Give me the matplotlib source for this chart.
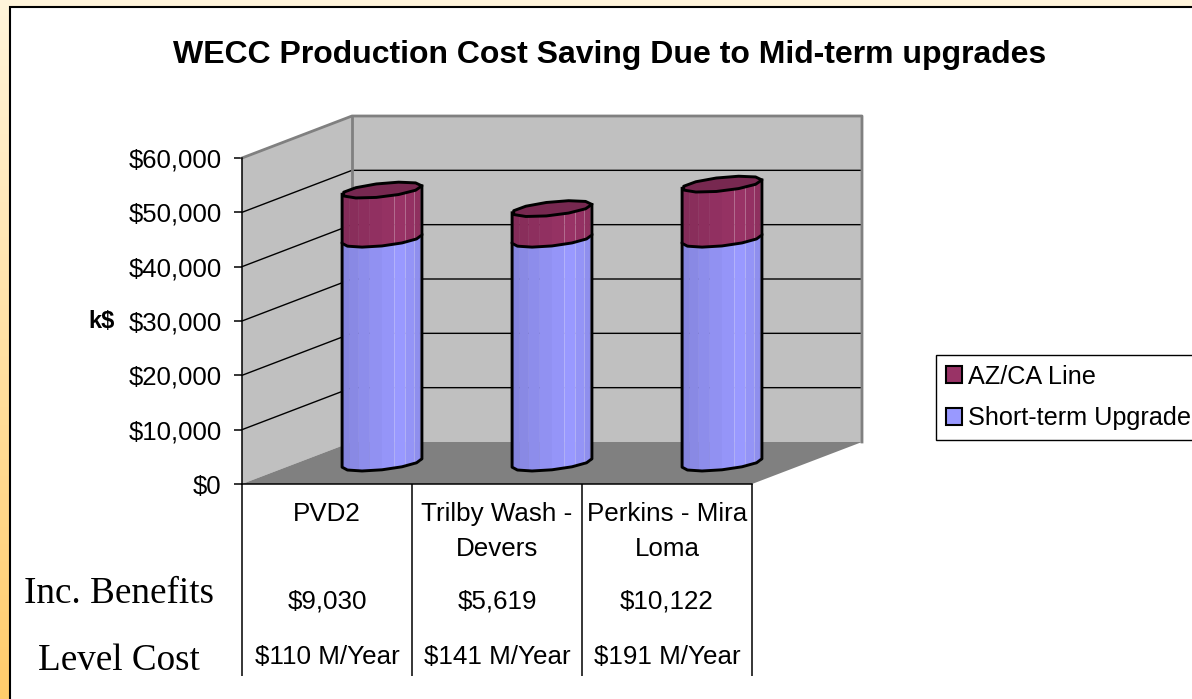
import matplotlib
matplotlib.use('Agg')
import matplotlib.pyplot as plt
import numpy as np
from matplotlib.patches import Polygon, Rectangle, Patch
from matplotlib.transforms import blended_transform_factory

categories = ['PVD2', 'Trilby Wash -\nDevers', 'Perkins - Mira\nLoma']
short_term = [41200, 41200, 41200]
az_ca = [9030, 5619, 10122]
benefits = ['$9,030', '$5,619', '$10,122']
level_cost = ['$110 M/Year', '$141 M/Year', '$191 M/Year']
y_ticks = [0, 10000, 20000, 30000, 40000, 50000, 60000]

BLUE = np.array([0x99, 0x99, 0xff]) / 255
MAROON = np.array([0x99, 0x33, 0x66]) / 255

plt.rcParams['font.family'] = ['Liberation Sans', 'DejaVu Sans']

W, H = 1192, 699
fig = plt.figure(figsize=(W / 100, H / 100), dpi=100)

# slide background and white frame
bg = fig.add_axes([0, 0, 1, 1])
grad = np.linspace(0, 1, 256).reshape(-1, 1)
top = np.array([1.0, 0.96, 0.86])
bottom = np.array([1.0, 0.80, 0.42])
bg.imshow(top + (bottom - top) * grad[:, :, None], aspect='auto', extent=[0, W, H, 0])
bg.add_patch(Rectangle((9.5, 6.5), W + 20, H + 20, fc='white', ec='black', lw=1.5))
bg.set_xlim(0, W)
bg.set_ylim(H, 0)
bg.axis('off')

# front plane of the 3d box is the real axes
ax = fig.add_axes([242 / W, (H - 484) / H, 510 / W, 326 / H])
ax.patch.set_alpha(0)
ax.set_xlim(0, 3)
ax.set_ylim(0, 60000)
for s in ['top', 'right']:
    ax.spines[s].set_visible(False)
for s in ['left', 'bottom']:
    ax.spines[s].set_linewidth(1.1)
    ax.spines[s].set_zorder(20)

DX = 110 / 170
DY = 42 / 326 * 60000


def proj(x, v, d):
    return x + d * DX, v + d * DY


def box_poly(pts, **kw):
    ax.add_patch(Polygon(pts, clip_on=False, **kw))


# walls and floor
box_poly([proj(0, 0, 0), proj(0, 60000, 0), proj(0, 60000, 1), proj(0, 0, 1)], fc='#c0c0c0', ec='none', zorder=1)
box_poly([proj(0, 0, 1), proj(0, 60000, 1), proj(3, 60000, 1), proj(3, 0, 1)], fc='#c0c0c0', ec='none', zorder=1)
box_poly([proj(0, 0, 0), proj(3, 0, 0), proj(3, 0, 1), proj(0, 0, 1)], fc='#808080', ec='none', zorder=2)

for v in y_ticks[1:-1]:
    xs, ys = zip(proj(0, v, 0), proj(0, v, 1), proj(3, v, 1))
    ax.plot(xs, ys, color='black', lw=1, clip_on=False, zorder=3)
xs, ys = zip(proj(0, 60000, 0), proj(0, 60000, 1), proj(3, 60000, 1), proj(3, 0, 1))
ax.plot(xs, ys, color='#808080', lw=2, clip_on=False, zorder=3)
xs, ys = zip(proj(0, 60000, 1), proj(0, 0, 1))
ax.plot(xs, ys, color='#808080', lw=2, clip_on=False, zorder=3)

# cylinders, coarse polygons like the old 3d renderer
RX = 0.2
RD = 0.19
N_SIDE = 10
N_RING = 11
t0 = np.arctan2(RD * 110, RX * 170)


def ring(c, v, t):
    return proj(c + 0.5 + RX * np.cos(t), v, 0.5 + RD * np.sin(t))


def cylinder(c, v0, v1, color, z):
    ts = np.linspace(t0 + np.pi, t0 + 2 * np.pi, N_SIDE + 1)
    for i in range(N_SIDE):
        f = (i + 0.5) / N_SIDE
        shade = 0.83 + 0.17 * f / 0.65 if f < 0.65 else 1.0 - 0.12 * (f - 0.65) / 0.35
        pts = [ring(c, v0, ts[i]), ring(c, v1, ts[i]), ring(c, v1, ts[i + 1]), ring(c, v0, ts[i + 1])]
        box_poly(pts, fc=color * shade, ec=color * shade, lw=0.3, zorder=z)
        if f > 0.55:
            xs, ys = zip(ring(c, v0, ts[i]), ring(c, v1, ts[i]))
            ax.plot(xs, ys, color='white', alpha=0.25, lw=0.7, clip_on=False, zorder=z)
    # outline of the side
    tf = np.linspace(t0 + np.pi, t0 + 2 * np.pi, N_RING // 2 + 2)
    xb, yb = ring(c, v0, tf)
    xu, yu = ring(c, v1, tf)
    ax.plot(np.r_[xu[0], xb, xu[-1]], np.r_[yu[0], yb, yu[-1]], color='black', lw=2.1,
            solid_joinstyle='round', clip_on=False, zorder=z + 0.2)
    return v1


def cap(c, v, color, z):
    tf = np.linspace(t0, t0 + 2 * np.pi, N_RING + 1)
    xc, yc = ring(c, v, tf)
    box_poly(list(zip(xc, yc)), fc=color, ec='black', lw=2.1, joinstyle='round', zorder=z)


for i in range(3):
    z = 4 + i
    top_blue = cylinder(i, 0, short_term[i], BLUE, z)
    top_red = cylinder(i, top_blue, top_blue + az_ca[i], MAROON, z + 0.3)
    cap(i, top_red, MAROON * 0.78, z + 0.6)

# axis ticks and labels
ax.set_yticks(y_ticks)
ax.set_yticklabels(['$' + format(v, ',') for v in y_ticks])
ax.tick_params(axis='y', length=5.8, width=1.1, pad=9, labelsize=18.5)
ax.set_ylabel('k$', rotation=0, fontweight='bold', fontsize=17, va='center', ha='center')
ax.yaxis.set_label_coords(-0.276, 0.5, transform=ax.transAxes)

ax.set_xticks([0, 1, 2, 3])
ax.set_xticklabels([])
ax.tick_params(axis='x', which='major', length=138, width=1.1)
ax.set_xticks([0.5, 1.5, 2.5], minor=True)
ax.set_xticklabels(categories, minor=True, fontsize=18.7, linespacing=1.6)
ax.tick_params(axis='x', which='minor', length=0, pad=13)

# rows under the axis
row = blended_transform_factory(ax.transData, fig.transFigure)
for i in range(3):
    ax.text(i + 0.5, 1 - 602 / H, benefits[i], transform=row, ha='center', va='center', fontsize=18.7)
    ax.text(i + 0.5, 1 - 657 / H, level_cost[i], transform=row, ha='center', va='center', fontsize=18.7)

fig.text(119 / W, 1 - 594 / H, 'Inc. Benefits', ha='center', va='center', fontsize=26.7,
         family=['Liberation Serif', 'DejaVu Serif'])
fig.text(119 / W, 1 - 661 / H, 'Level Cost', ha='center', va='center', fontsize=26.7,
         family=['Liberation Serif', 'DejaVu Serif'])

fig.text(610 / W, 1 - 55 / H, 'WECC Production Cost Saving Due to Mid-term upgrades', ha='center', va='center',
         fontsize=23, fontweight='bold')

handles = [Patch(fc=MAROON, ec='black', lw=1.5, label='AZ/CA Line'),
           Patch(fc=BLUE, ec='black', lw=1.5, label='Short-term Upgrade')]
leg = fig.legend(handles=handles, loc='upper left', bbox_to_anchor=(935.5 / W, 1 - 354.5 / H), fontsize=18.2,
                 frameon=True, fancybox=False, edgecolor='black', framealpha=1, borderpad=0.4, borderaxespad=0,
                 handlelength=0.65, handleheight=0.65, handletextpad=0.25, labelspacing=0.7)
leg.get_frame().set_linewidth(1)

fig.savefig('out.png', dpi=100)
